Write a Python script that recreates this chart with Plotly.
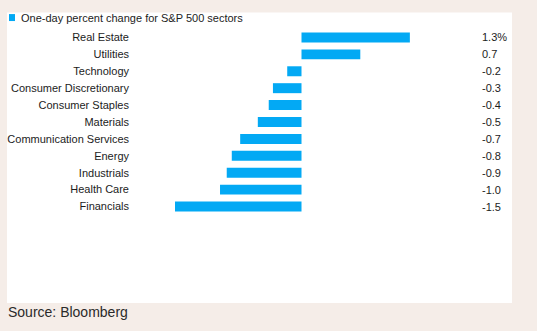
import plotly.graph_objects as go

sectors = ["Real Estate", "Utilities", "Technology", "Consumer Discretionary",
           "Consumer Staples", "Materials", "Communication Services", "Energy",
           "Industrials", "Health Care", "Financials"]
changes = [1.29, 0.70, -0.17, -0.34, -0.39, -0.52, -0.73, -0.83, -0.89, -0.97, -1.51]
value_labels = ["1.3%", "0.7", "-0.2", "-0.3", "-0.4", "-0.5", "-0.7", "-0.8", "-0.9", "-1.0", "-1.5"]
title_text = "One-day percent change for S&P 500 sectors"
source_text = "Source: Bloomberg"

W, H = 537, 331
L, R = 175, 410          # plot-area pixel edges
T, B = 28.5, 215.5
pw, ph = R - L, B - T
ZERO_PX, SCALE = 301.5, 84.0
x_range = [-(ZERO_PX - L) / SCALE, (R - ZERO_PX) / SCALE]

def px(x):
    return (x - L) / pw

def py(y):
    return (B - y) / ph

bar_color = "#03a9f4"
text_color = "#1c1c1c"
font = "Liberation Sans, Arial, sans-serif"

fig = go.Figure(go.Bar(
    x=changes, y=sectors, orientation="h",
    marker=dict(color=bar_color, line=dict(width=0)),
    showlegend=False, hoverinfo="skip",
))

annotations = []
for s, lab in zip(sectors, value_labels):
    annotations.append(dict(x=px(480), xref="paper", y=s, yref="y", text=lab,
                            showarrow=False, xanchor="left", yanchor="middle",
                            font=dict(size=11, color=text_color, family=font)))
annotations.append(dict(x=px(19), xref="paper", y=py(17), yref="paper", text=title_text,
                        showarrow=False, xanchor="left", yanchor="middle",
                        font=dict(size=11, color=text_color, family=font)))
annotations.append(dict(x=px(6), xref="paper", y=py(313.5), yref="paper", text=source_text,
                        showarrow=False, xanchor="left", yanchor="middle",
                        font=dict(size=14, color="#2a2a2a", family=font)))

shapes = [
    dict(type="rect", xref="paper", yref="paper", x0=px(7), x1=px(512), y0=py(304), y1=py(12),
         fillcolor="white", line=dict(width=0), layer="below"),
    dict(type="rect", xref="paper", yref="paper", x0=px(9), x1=px(15), y0=py(20.5), y1=py(13.5),
         fillcolor=bar_color, line=dict(width=0), layer="above"),
]

fig.update_layout(
    width=W, height=H,
    margin=dict(l=L, r=W - R, t=T, b=H - B, pad=0, autoexpand=False),
    paper_bgcolor="#f5ede8", plot_bgcolor="rgba(0,0,0,0)",
    bargap=0.41,
    xaxis=dict(range=x_range, visible=False, fixedrange=True, automargin=False),
    yaxis=dict(autorange="reversed", showgrid=False, zeroline=False, showline=False,
               ticks="", ticklabelstandoff=45, automargin=False,
               tickfont=dict(size=11, color=text_color, family=font), fixedrange=True),
    annotations=annotations, shapes=shapes,
    font=dict(family=font),
)

fig.write_html("out.html", config={"displayModeBar": False})
